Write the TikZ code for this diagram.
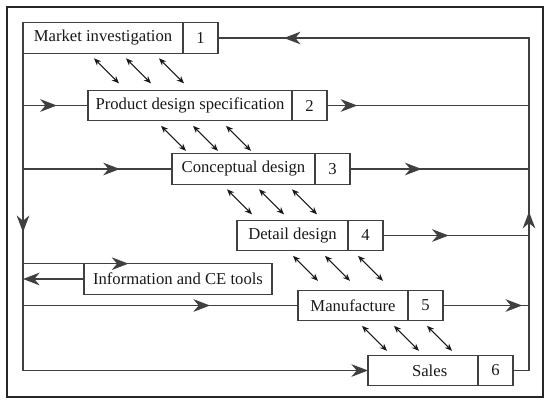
\documentclass[tikz,border=0pt]{standalone}
\usepackage{fontspec}
\setmainfont{Liberation Serif}
\usepackage{tikz}
\usetikzlibrary{arrows.meta, positioning, calc, decorations.markings}

\begin{document}
\begin{tikzpicture}[
    x=0.75pt, y=-0.75pt,
    >={Stealth[length=12.5pt, width=9.5pt, inset=4pt]},
    box/.style={draw=black!75, line width=0.8pt, minimum height=23pt, inner sep=0pt, outer sep=0pt,
        font=\fontsize{12.5}{14}\selectfont, text=black!90},
    stage/.style={box},
    num/.style={box, minimum width=26.25pt},
    line/.style={draw=black!75, line width=0.8pt},
    dbl/.style={{Stealth[length=5.5pt, width=4.5pt]}-{Stealth[length=5.5pt, width=4.5pt]}, line width=0.8pt, black!90},
    midarrow/.style={postaction={decorate}, decoration={markings, mark=at position #1 with {\arrow{>}}}},
    twomarks/.style 2 args={postaction={decorate}, decoration={markings,
        mark=at position #1 with {\arrow{>}}, mark=at position #2 with {\arrow{>}}}},
]
\useasboundingbox (0,0) rectangle (550,405);

% Frame
\draw[line width=1.5pt, black!85] (7,7) rectangle (543,397);

% Stages
\node[stage, minimum width=120pt] (m1) at (103,38) {Market investigation};
\node[num, right=0pt of m1] (n1) {1};
\node[stage, minimum width=153pt] (m2) at (190,105.5) {Product design specification};
\node[num, right=0pt of m2] (n2) {2};
\node[stage, minimum width=107.25pt] (m3) at (243.5,169) {Conceptual design};
\node[num, right=0pt of m3] (n3) {3};
\node[stage, minimum width=83.25pt] (m4) at (292.5,235.5) {Detail design};
\node[num, right=0pt of m4] (n4) {4};
\node[stage, minimum width=141pt] (info) at (178,279) {Information and CE tools};
\node[stage, minimum width=82.5pt] (m5) at (353,305.5) {Manufacture};
\node[num, right=0pt of m5] (n5) {5};
\node[stage, minimum width=82.5pt] (m6) at (423,370.5) {\hspace{10pt}Sales};
\node[num, right=0pt of m6] (n6) {6};

\coordinate (rtop) at (529,38);

% Feedback loop on the right
\draw[line, twomarks={0.265}{0.9}] (n6.east) -| (rtop) -- (n1.east);

% Left trunk
\draw[line, ->, midarrow=0.27] (m1.south west) |- (m6.west);

% Branches into the stages
\draw[line, midarrow=0.52] (m1.south west |- m2.west) -- (m2.west);
\draw[line, midarrow=0.65] (m1.south west |- m3.west) -- (m3.west);
\draw[line, midarrow=0.68] (m1.south west |- info.north) -- (info.north);
\draw[line, ->] (info.west) -- (info.west -| m1.south west);
\draw[line, midarrow=0.68] (m1.south west |- m5.west) -- (m5.west);

% Outputs to the right
\draw[line, midarrow=0.15] (n2.east) -- (n2.east -| rtop);
\draw[line, midarrow=0.4] (n3.east) -- (n3.east -| rtop);
\draw[line, midarrow=0.45] (n4.east) -- (n4.east -| rtop);
\draw[line, midarrow=0.92] (n5.east) -- (n5.east -| rtop);

% Overlap between stages
\foreach \up/\dx in {m1/71, m2/73, m3/55, m4/56, m5/64}
  \foreach \k in {0,32,65}
    \draw[dbl] ($(\up.south west)+(\dx+\k,5)$) -- ++(25,25);

\end{tikzpicture}
\end{document}
